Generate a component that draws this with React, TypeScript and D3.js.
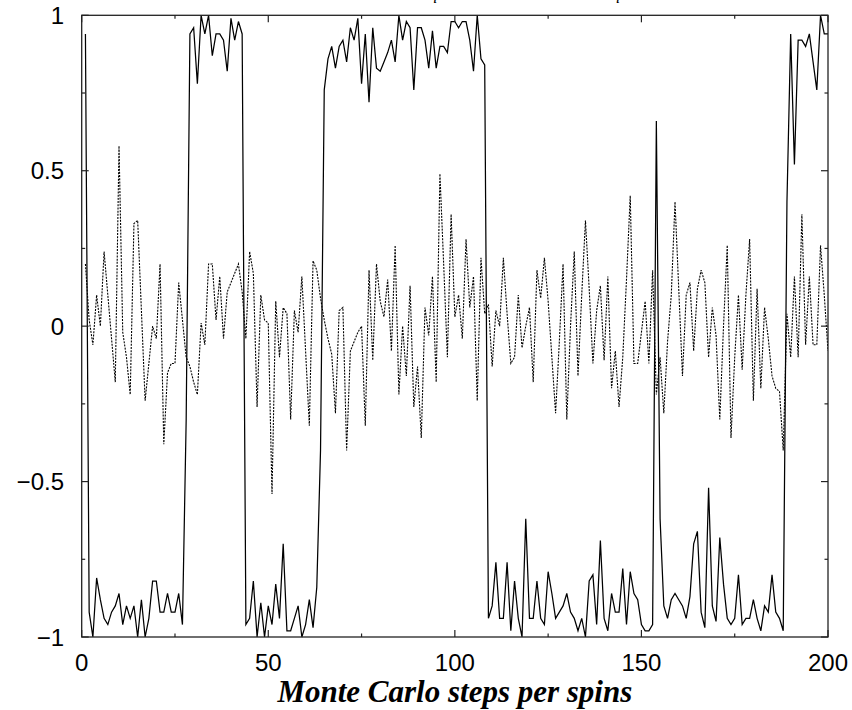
import React from "react";
import * as d3 from "d3";

const steps: number[] = d3.range(1, 201);

const solidValues: number[] = [
  0.94, -0.92, -1.0, -0.81, -0.88, -0.94, -0.96, -0.92, -0.9, -0.86,
  -0.96, -0.9, -0.94, -0.9, -1.0, -0.88, -1.0, -0.94, -0.82, -0.82,
  -0.92, -0.92, -0.86, -0.92, -0.92, -0.86, -0.96, -0.3, 0.94, 0.96,
  0.78, 1.0, 0.94, 1.0, 0.87, 0.94, 0.94, 0.92, 0.82, 0.99,
  0.92, 0.98, 0.94, -0.96, -0.94, -0.82, -1.0, -0.89, -1.0, -0.9,
  -0.96, -0.83, -0.94, -0.7, -0.98, -0.98, -0.94, -0.9, -1.0, -0.96,
  -0.88, -0.97, -0.84, -0.4, 0.76, 0.86, 0.9, 0.83, 0.9, 0.92,
  0.85, 0.96, 0.92, 0.99, 0.78, 0.94, 0.72, 0.96, 0.83, 0.82,
  0.85, 0.88, 0.92, 0.85, 1.0, 0.92, 0.98, 0.96, 0.76, 0.96,
  0.96, 0.92, 0.83, 0.95, 0.83, 0.9, 0.9, 0.88, 0.98, 0.98,
  0.96, 0.98, 0.98, 0.92, 0.82, 1.0, 0.86, 0.84, -0.94, -0.9,
  -0.76, -0.94, -0.94, -0.76, -0.98, -0.82, -0.94, -1.0, -0.62, -0.94,
  -0.94, -0.82, -0.94, -0.96, -0.79, -0.86, -0.94, -0.92, -0.9, -0.86,
  -0.92, -0.94, -0.98, -0.94, -1.0, -0.82, -0.8, -0.96, -0.69, -0.94,
  -0.98, -0.86, -0.92, -0.92, -0.78, -0.96, -0.79, -0.86, -0.88, -0.96,
  -0.98, -0.98, -0.96, 0.66, -0.62, -0.9, -0.94, -0.88, -0.86, -0.88,
  -0.9, -0.94, -0.87, -0.7, -0.66, -0.92, -0.97, -0.52, -0.9, -0.95,
  -0.68, -0.83, -0.94, -0.96, -0.94, -0.8, -0.96, -0.94, -0.94, -0.88,
  -0.94, -0.98, -0.9, -0.92, -0.8, -0.92, -0.94, -0.98, 0.4, 0.94,
  0.52, 0.92, 0.92, 0.9, 0.94, 0.85, 0.76, 1.0, 0.94, 0.94,
];

const dottedValues: number[] = [
  0.2, 0.02, -0.06, 0.1, 0.0, 0.24, 0.1, -0.04, -0.18, 0.58,
  -0.02, -0.1, -0.22, 0.33, 0.34, 0.05, -0.24, -0.12, 0.0, -0.04,
  0.2, -0.38, -0.15, -0.12, -0.12, 0.14, 0.02, -0.1, -0.13, -0.18,
  -0.22, 0.01, -0.06, 0.2, 0.2, 0.02, 0.16, -0.04, 0.11, 0.14,
  0.17, 0.2, 0.11, -0.04, 0.24, 0.17, -0.26, 0.1, 0.02, 0.01,
  -0.54, 0.08, -0.1, 0.06, 0.04, -0.3, 0.05, -0.02, 0.16, -0.08,
  -0.32, 0.21, 0.18, 0.09, 0.02, -0.04, -0.09, -0.28, 0.05, 0.06,
  -0.4, -0.08, -0.05, -0.02, 0.0, -0.32, 0.18, -0.11, 0.2, 0.08,
  0.03, 0.15, -0.08, 0.26, -0.22, 0.0, -0.16, 0.13, -0.26, -0.13,
  -0.36, 0.06, -0.03, 0.16, -0.18, 0.49, 0.2, -0.1, 0.36, 0.03,
  0.1, -0.04, 0.28, 0.06, 0.16, -0.24, 0.22, 0.04, 0.07, -0.13,
  0.05, 0.0, 0.22, 0.04, -0.12, -0.1, 0.1, -0.07, 0.0, 0.06,
  -0.18, 0.18, 0.09, 0.22, 0.08, -0.1, -0.28, -0.05, 0.2, -0.3,
  0.0, 0.24, -0.16, 0.1, 0.34, 0.12, -0.12, 0.05, 0.13, -0.11,
  0.16, -0.2, -0.08, -0.26, -0.1, 0.15, 0.42, -0.12, -0.12, -0.02,
  0.08, -0.12, 0.18, -0.22, -0.1, -0.28, -0.05, 0.1, 0.4, 0.12,
  -0.16, 0.1, 0.14, -0.08, 0.12, 0.18, 0.14, -0.1, 0.06, -0.03,
  -0.3, 0.0, 0.26, -0.36, -0.1, 0.1, -0.14, 0.1, 0.28, -0.24,
  0.12, -0.2, 0.06, -0.04, -0.16, -0.2, -0.21, -0.4, 0.04, -0.1,
  0.16, -0.1, 0.36, -0.06, 0.16, -0.06, -0.06, 0.26, 0.1, -0.08,
];

const xTickValues: number[] = [0, 25, 50, 75, 100, 125, 150, 175, 200];
const xTickLabels: string[] = ["0", "", "50", "", "100", "", "150", "", "200"];
const yTickValues: number[] = [-1, -0.75, -0.5, -0.25, 0, 0.25, 0.5, 0.75, 1];
const yTickLabels: string[] = ["\u22121", "", "\u22120.5", "", "0", "", "0.5", "", "1"];
const xTitle = "Monte Carlo steps per spins";
const topFragments: string[] = ["q", "q"];
const topFragmentX: number[] = [93.2, 142.2];

const W = 852;
const H = 710;
const left = 81.7;
const right = 828;
const top = 15.3;
const bottom = 637;

export default function App() {
  const x = d3.scaleLinear().domain([0, 200]).range([left, right]);
  const y = d3.scaleLinear().domain([-1, 1]).range([bottom, top]);
  const line = d3
    .line<number>()
    .x((_, i) => x(steps[i]))
    .y((d) => y(d));
  const solidPath = line(solidValues) || "";
  const dottedPath = line(dottedValues) || "";
  const frame = "#222";
  const labelFont = "'Liberation Sans', Arial, Helvetica, sans-serif";

  return (
    <svg
      width={W}
      height={H}
      viewBox={`0 0 ${W} ${H}`}
      style={{ position: "absolute", left: 0, top: 0, background: "#fff" }}
    >
      <defs>
        <clipPath id="plotClip">
          <rect x={left} y={top - 1} width={right - left} height={bottom - top + 2} />
        </clipPath>
      </defs>
      <rect x={0} y={0} width={W} height={H} fill="#fff" />
      {topFragments.map((t, i) => (
        <text
          key={"tf" + i}
          x={x(topFragmentX[i])}
          y={-1}
          fontFamily="'Liberation Serif', 'Times New Roman', serif"
          fontStyle="italic"
          fontSize={16}
          fill="#000"
        >
          {t}
        </text>
      ))}
      <g clipPath="url(#plotClip)">
        <path
          d={dottedPath}
          fill="none"
          stroke="#000"
          strokeWidth={1.1}
          strokeDasharray="2,1.2"
        />
        <path d={solidPath} fill="none" stroke="#000" strokeWidth={1.25} strokeLinejoin="miter" />
      </g>
      <rect
        x={left}
        y={top}
        width={right - left}
        height={bottom - top}
        fill="none"
        stroke={frame}
        strokeWidth={1.3}
      />
      {xTickValues.map((v, i) => {
        const len = xTickLabels[i] !== "" ? 7 : 3.5;
        return (
          <g key={"xt" + i}>
            <line x1={x(v)} x2={x(v)} y1={bottom} y2={bottom - len} stroke={frame} strokeWidth={1.2} />
            <line x1={x(v)} x2={x(v)} y1={top} y2={top + len} stroke={frame} strokeWidth={1.2} />
            {xTickLabels[i] !== "" && (
              <text
                x={x(v)}
                y={671}
                textAnchor="middle"
                fontFamily={labelFont}
                fontSize={24}
                fill="#000"
              >
                {xTickLabels[i]}
              </text>
            )}
          </g>
        );
      })}
      {yTickValues.map((v, i) => {
        const len = yTickLabels[i] !== "" ? 7 : 3.5;
        return (
          <g key={"yt" + i}>
            <line x1={left} x2={left + len} y1={y(v)} y2={y(v)} stroke={frame} strokeWidth={1.2} />
            <line x1={right} x2={right - len} y1={y(v)} y2={y(v)} stroke={frame} strokeWidth={1.2} />
            {yTickLabels[i] !== "" && (
              <text
                x={64}
                y={y(v) + 8.5}
                textAnchor="end"
                fontFamily={labelFont}
                fontSize={24}
                fill="#000"
              >
                {yTickLabels[i]}
              </text>
            )}
          </g>
        );
      })}
      <text
        x={(left + right) / 2}
        y={702}
        textAnchor="middle"
        fontFamily="'Liberation Serif', 'Times New Roman', serif"
        fontStyle="italic"
        fontWeight="bold"
        fontSize={31}
        fill="#000"
      >
        {xTitle}
      </text>
    </svg>
  );
}
